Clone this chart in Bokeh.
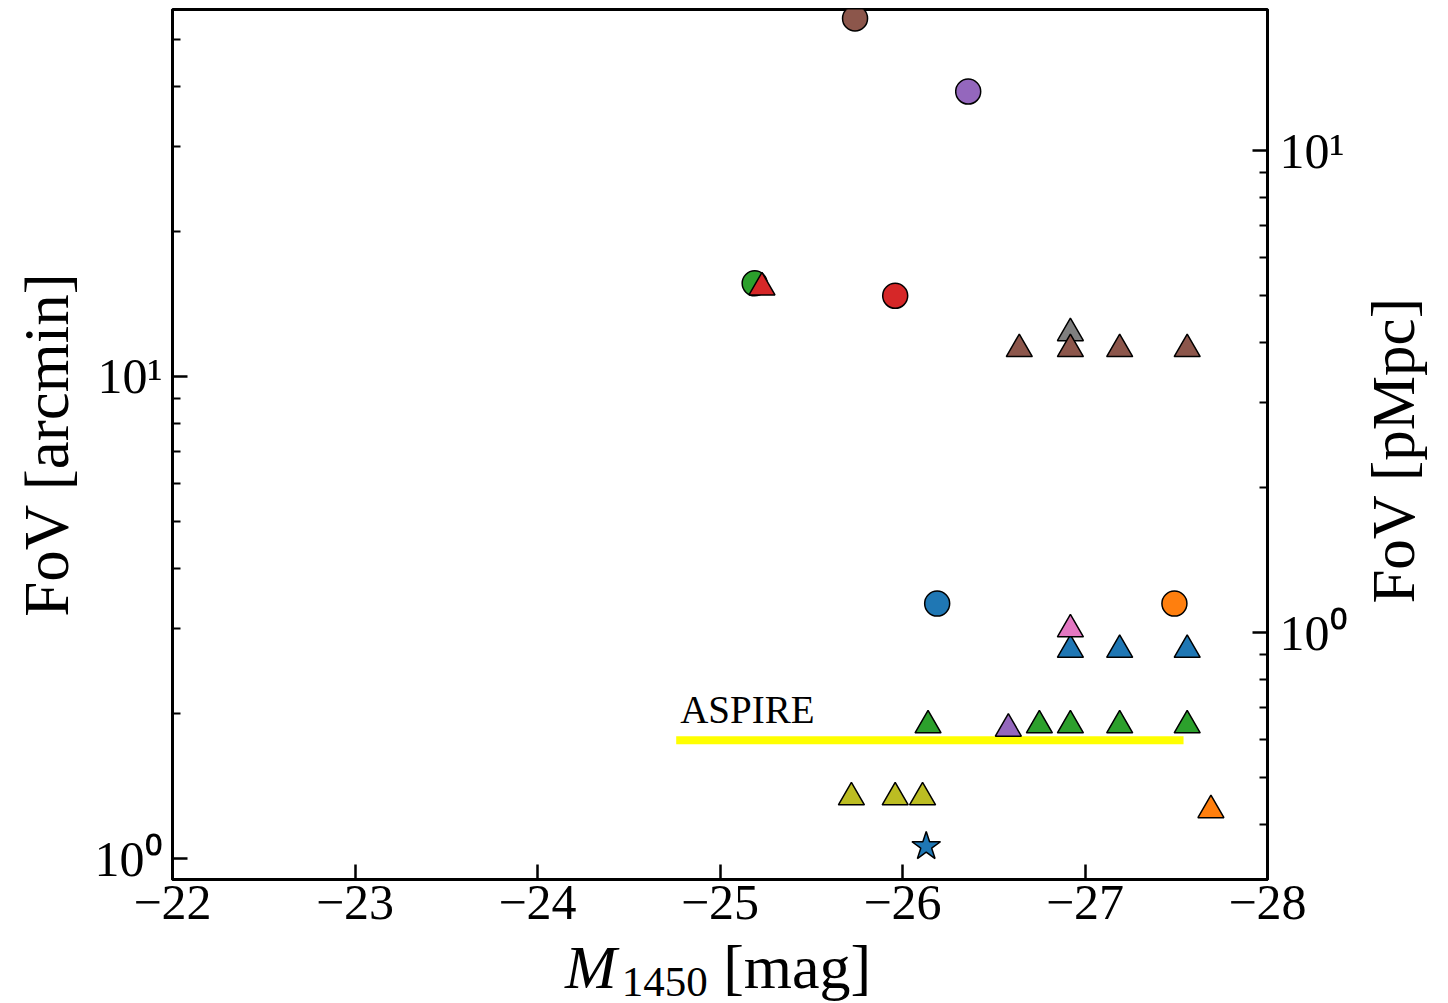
import math
from bokeh.plotting import figure
from bokeh.layouts import column, row
from bokeh.models import (Range1d, LogScale, LogAxis, FixedTicker,
                          CustomJSTickFormatter, Label, Div)
from bokeh.embed import file_html
from bokeh.resources import INLINE

FONT = "Liberation Serif"

# ---------------- data (M1450 [mag], FoV [arcmin]) ----------------
circ_brown_x = [-25.74]
circ_brown_y = [55.3]
circ_purple_x = [-26.36]
circ_purple_y = [39.0]
circ_green_x = [-25.19]
circ_green_y = [15.6]
tri_red_x = [-25.23]
tri_red_y = [15.3]
circ_red_x = [-25.96]
circ_red_y = [14.7]
tri_gray_x = [-26.92]
tri_gray_y = [12.3]
tri_brown_x = [-26.64, -26.92, -27.19, -27.56]
tri_brown_y = [11.4, 11.4, 11.4, 11.4]
circ_blue_x = [-26.19]
circ_blue_y = [3.38]
circ_orange_x = [-27.49]
circ_orange_y = [3.38]
tri_pink_x = [-26.92]
tri_pink_y = [2.99]
tri_blue_x = [-26.92, -27.19, -27.56]
tri_blue_y = [2.71, 2.71, 2.71]
tri_green_x = [-26.14, -26.75, -26.92, -27.19, -27.56]
tri_green_y = [1.89, 1.89, 1.89, 1.89, 1.89]
tri_purple_x = [-26.58]
tri_purple_y = [1.86]
tri_olive_x = [-25.72, -25.96, -26.11]
tri_olive_y = [1.34, 1.34, 1.34]
tri_orange_x = [-27.69]
tri_orange_y = [1.26]
star_blue_x = [-26.13]
star_blue_y = [1.06]

aspire_x = [-24.76, -27.54]
aspire_y = [1.76, 1.76]
aspire_label = "ASPIRE"

x_ticks = [-22, -23, -24, -25, -26, -27, -28]
y_major = [1, 10]
y_minor = [2, 3, 4, 5, 6, 7, 8, 9, 20, 30, 40, 50]
r_major = [1, 10]
r_minor = [0.4, 0.5, 0.6, 0.7, 0.8, 0.9, 2, 3, 4, 5, 6, 7, 8, 9]

arcmin_range = (0.905, 57.7)
pmpc_per_arcmin = 0.34

x_title_main = "M"
x_title_sub = "1450"
x_title_unit = "[mag]"
y_title = "FoV [arcmin]"
r_title = "FoV [pMpc]"

series = [
    (circ_green_x, circ_green_y, "circle", "#2ca02c"),
    (tri_red_x, tri_red_y, "triangle", "#d62728"),
    (circ_brown_x, circ_brown_y, "circle", "#8c564b"),
    (circ_purple_x, circ_purple_y, "circle", "#9467bd"),
    (circ_red_x, circ_red_y, "circle", "#d62728"),
    (tri_gray_x, tri_gray_y, "triangle", "#7f7f7f"),
    (tri_brown_x, tri_brown_y, "triangle", "#8c564b"),
    (circ_blue_x, circ_blue_y, "circle", "#1f77b4"),
    (circ_orange_x, circ_orange_y, "circle", "#ff7f0e"),
    (tri_blue_x, tri_blue_y, "triangle", "#1f77b4"),
    (tri_pink_x, tri_pink_y, "triangle", "#e377c2"),
    (tri_green_x, tri_green_y, "triangle", "#2ca02c"),
    (tri_purple_x, tri_purple_y, "triangle", "#9467bd"),
    (tri_olive_x, tri_olive_y, "triangle", "#bcbd22"),
    (tri_orange_x, tri_orange_y, "triangle", "#ff7f0e"),
    (star_blue_x, star_blue_y, "star", "#1f77b4"),
]
sizes = {"circle": 25, "triangle": 26, "star": 30}

# ---------------- figure ----------------
FIG_W, FIG_H = 1350, 936
p = figure(width=FIG_W, height=FIG_H,
           x_range=Range1d(x_ticks[0], x_ticks[-1]),
           y_range=Range1d(*arcmin_range), y_axis_type="log",
           output_backend="svg", toolbar_location=None,
           min_border_left=172, min_border_right=FIG_W - 172 - 1096,
           min_border_top=9, min_border_bottom=57)
p.background_fill_color = "white"
p.border_fill_color = "white"
p.grid.visible = False
p.outline_line_color = "black"
p.outline_line_width = 3
p.outline_line_alpha = 1.0

p.extra_y_ranges = {"pmpc": Range1d(arcmin_range[0] * pmpc_per_arcmin,
                                    arcmin_range[1] * pmpc_per_arcmin)}
p.extra_y_scales = {"pmpc": LogScale()}
raxis = LogAxis(y_range_name="pmpc")
p.add_layout(raxis, "right")

sup_js = """
const s = {'0':'\u2070','1':'\u00b9','2':'\u00b2','3':'\u00b3','-':'\u207b'};
const e = String(Math.round(Math.log10(tick)));
return '10' + e.split('').map(c => s[c]).join('');
"""

xa = p.xaxis[0]
xa.ticker = FixedTicker(ticks=x_ticks, minor_ticks=[])
xa.formatter = CustomJSTickFormatter(code="return '\u2212' + Math.abs(tick).toFixed(0);")

ya = p.yaxis[0]
ya.ticker = FixedTicker(ticks=y_major, minor_ticks=y_minor)
ya.formatter = CustomJSTickFormatter(code=sup_js)
ya.axis_label = y_title

raxis.ticker = FixedTicker(ticks=r_major, minor_ticks=r_minor)
raxis.formatter = CustomJSTickFormatter(code=sup_js)

for ax in (xa, ya, raxis):
    ax.axis_line_color = "black"
    ax.axis_line_width = 3
    ax.major_tick_line_color = "black"
    ax.major_tick_line_width = 2.5
    ax.minor_tick_line_color = "black"
    ax.minor_tick_line_width = 2
    ax.major_tick_in = 15
    ax.major_tick_out = 0
    ax.minor_tick_in = 8
    ax.minor_tick_out = 0
    ax.major_label_text_font = FONT
    ax.major_label_text_font_size = "50px"
    ax.major_label_text_color = "black"
    ax.major_label_standoff = 10
    ax.axis_label_text_font = FONT
    ax.axis_label_text_font_size = "63px"
    ax.axis_label_text_font_style = "normal"
    ax.axis_label_text_color = "black"
    ax.axis_label_standoff = 10
xa.major_label_standoff = 6
raxis.major_label_standoff = 12

# ---------------- marks ----------------
p.line(aspire_x, aspire_y, line_color="#ffff00", line_width=8)
for xs, ys, mk, col in series:
    p.scatter(xs, ys, marker=mk, size=sizes[mk], fill_color=col,
              line_color="black", line_width=1.5)

p.add_layout(Label(x=aspire_x[0], y=aspire_y[0], y_offset=31, x_offset=4,
                   text=aspire_label, text_font=FONT, text_font_size="39px",
                   text_color="black", text_baseline="middle"))

# right-axis title (reads bottom to top) as real HTML text beside the plot
rtitle_html = (
    f'<div style="width:90px;height:860px;display:flex;align-items:center;'
    f'justify-content:center;padding-right:14px;padding-top:32px;'
    f'box-sizing:border-box;overflow:hidden;">'
    f'<div style="writing-mode:vertical-rl;transform:rotate(180deg);'
    f'font-family:\'{FONT}\',serif;font-size:61px;line-height:61px;'
    f'color:black;white-space:nowrap;">{r_title}</div></div>'
)
rdiv = Div(text=rtitle_html, width=90, height=860)

# x-axis title (italic M with subscript) as real HTML text under the plot
xtitle_html = (
    f'<div style="font-family:\'{FONT}\',serif;font-size:62px;line-height:52px;'
    f'color:black;white-space:nowrap;padding-left:560px;">'
    f'<i>{x_title_main}</i>'
    f'<span style="font-size:43px;position:relative;top:8px;margin-left:5px;">{x_title_sub}</span>'
    f' {x_title_unit}</div>'
)
xdiv = Div(text=xtitle_html, width=FIG_W + 90, height=58)

layout = column(row(p, rdiv, spacing=0), xdiv, spacing=0)
open("out.html", "w").write(file_html(layout, INLINE))
